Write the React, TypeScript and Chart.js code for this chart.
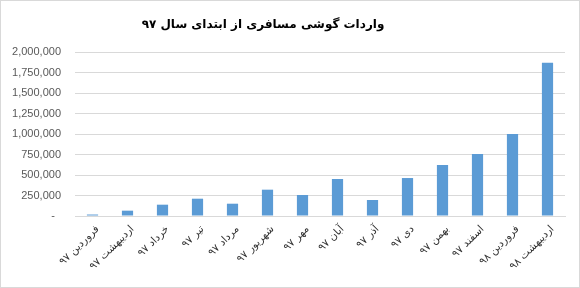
import React, { useEffect, useRef } from "react";
import { Chart, registerables } from "chart.js";

Chart.register(...registerables);

const title = "واردات گوشی مسافری از ابتدای سال ۹۷";
const categories = [
  "فروردین ۹۷",
  "اردیبهشت ۹۷",
  "خرداد ۹۷",
  "تیر ۹۷",
  "مرداد ۹۷",
  "شهریور ۹۷",
  "مهر ۹۷",
  "آبان ۹۷",
  "آذر ۹۷",
  "دی ۹۷",
  "بهمن ۹۷",
  "اسفند ۹۷",
  "فروردین ۹۸",
  "اردیبهشت ۹۸",
];
const values = [18000, 65000, 138000, 211000, 150000, 321000, 256000, 451000, 195000, 463000, 622000, 756000, 1000000, 1870000];
const yMax = 2000000;
const yStep = 250000;

const titlePlugin = {
  id: "customTitle",
  afterDraw(chart: any) {
    const ctx = chart.ctx;
    ctx.save();
    ctx.font = "bold 12px 'DejaVu Sans'";
    ctx.fillStyle = "#000000";
    ctx.textAlign = "center";
    ctx.textBaseline = "middle";
    ctx.fillText(title, 262, 24);
    ctx.restore();
  },
};

export default function App() {
  const ref = useRef<HTMLCanvasElement | null>(null);
  useEffect(() => {
    if (!ref.current) return;
    const chart = new Chart(ref.current, {
      type: "bar",
      data: {
        labels: categories,
        datasets: [
          {
            data: values,
            backgroundColor: "#5b9bd5",
            categoryPercentage: 1,
            barPercentage: 0.32,
          },
        ],
      },
      plugins: [titlePlugin],
      options: {
        animation: false,
        responsive: false,
        devicePixelRatio: 1,
        layout: { padding: { left: 4, right: 14, top: 51, bottom: 0 } },
        plugins: {
          legend: { display: false },
          tooltip: { enabled: false },
          title: { display: false },
        },
        scales: {
          x: {
            grid: { display: false, drawTicks: false },
            border: { display: true, color: "#d9d9d9" },
            ticks: {
              maxRotation: 45,
              minRotation: 45,
              autoSkip: false,
              padding: 7,
              labelOffset: 5,
              color: "#333333",
              font: { family: "DejaVu Sans", size: 10.5 },
            },
            afterFit: (s: any) => {
              s.height = 71;
            },
          },
          y: {
            min: 0,
            max: yMax,
            grid: { color: "#d9d9d9", drawTicks: false },
            border: { display: false },
            ticks: {
              stepSize: yStep,
              padding: 14,
              color: "#595959",
              font: { family: "Liberation Sans", size: 11 },
              callback: (v: any) => (Number(v) === 0 ? "-  " : Number(v).toLocaleString("en-US")),
            },
            afterFit: (s: any) => {
              s.width = 70;
            },
          },
        },
      },
    });
    return () => chart.destroy();
  }, []);
  return (
    <div
      style={{
        position: "fixed",
        left: 0,
        top: 0,
        width: 580,
        height: 288,
        background: "#fff",
        border: "1px solid #d9d9d9",
        boxSizing: "border-box",
      }}
    >
      <canvas ref={ref} width={578} height={286} style={{ display: "block" }} />
    </div>
  );
}
